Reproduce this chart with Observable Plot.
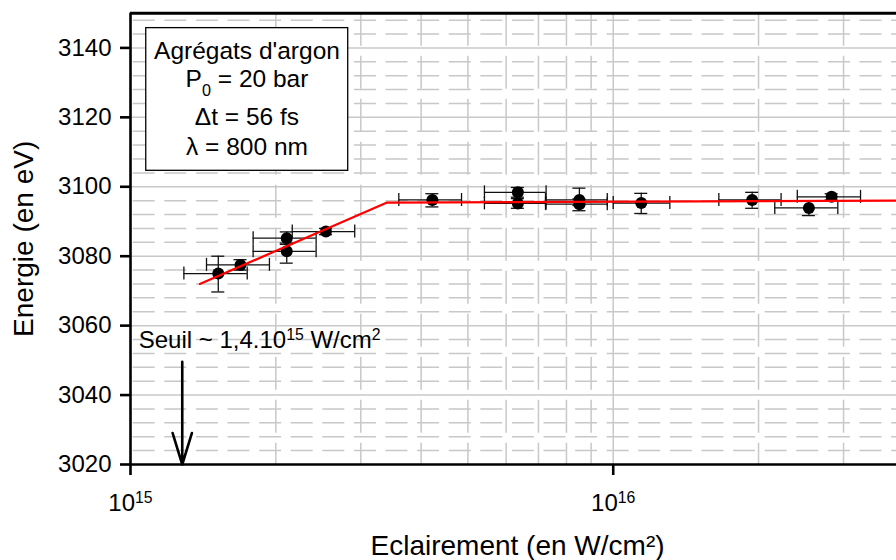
<!DOCTYPE html>
<html><head><meta charset="utf-8">
<script src="https://cdn.jsdelivr.net/npm/d3@7"></script>
<script src="https://cdn.jsdelivr.net/npm/@observablehq/plot@0.6"></script>
<style>
html,body{margin:0;padding:0;background:#fff;overflow:hidden;}
</style>
</head><body><div id="chart"></div>
<script>
// ---- data ----
const xVal = [1.52e15, 1.69e15, 2.107e15, 2.107e15, 2.54e15, 4.22e15, 6.345e15, 6.345e15, 8.51e15, 8.51e15, 1.143e16, 1.94e16, 2.543e16, 2.834e16];
const xLo  = [1.29e15, 1.437e15, 1.795e15, 1.795e15, 2.163e15, 3.596e15, 5.41e15, 5.41e15, 7.24e15, 7.24e15, 1.0e16, 1.655e16, 2.161e16, 2.406e16];
const xHi  = [1.745e15, 1.94e15, 2.424e15, 2.424e15, 2.914e15, 4.85e15, 7.26e15, 7.26e15, 9.72e15, 9.72e15, 1.31e16, 2.227e16, 2.919e16, 3.253e16];
const yVal = [3075.0, 3077.5, 3085.2, 3081.4, 3087.1, 3096.2, 3098.4, 3095.2, 3096.2, 3095.0, 3095.3, 3096.2, 3093.9, 3097.1];
const yLo  = [3069.7, 3076.0, 3083.4, 3078.0, 3086.2, 3094.2, 3097.0, 3093.8, 3094.6, 3093.1, 3092.3, 3093.8, 3091.7, 3096.2];
const yHi  = [3080.0, 3079.0, 3087.0, 3083.8, 3088.0, 3098.0, 3099.8, 3096.6, 3099.6, 3096.5, 3098.1, 3098.4, 3096.0, 3098.0];

const fitX = [1.392e15, 3.40e15, 3.862e16];
const fitY = [3072.0, 3095.45, 3096.0];

const xDomain = [1e15, 3.862e16];
const yDomain = [3020, 3150];
const xTicks = [1e15, 1e16];
const yTicks = [3020, 3040, 3060, 3080, 3100, 3120, 3140];
const yGridMajor = [3040, 3060, 3080, 3100, 3120, 3140];
const yGridMinor = [3024, 3028, 3032, 3036, 3044, 3048, 3052, 3056, 3064, 3068, 3072, 3076, 3084, 3088, 3092, 3096, 3104, 3108, 3112, 3116, 3124, 3128, 3132, 3136, 3144, 3148];
const xGridSolid = [1e16];
const xGridDashed = [2e15, 3e15, 4e15, 5e15, 6e15, 7e15, 8e15, 9e15, 2e16, 3e16];

const boxLines = ["Agrégats d'argon", "P_{0} = 20 bar", "Δt = 56 fs", "λ = 800 nm"];
const boxLineY = [3136.75, 3128.6, 3117.8, 3109.2];
const boxLineX = 1.743e15;
const boxRect = [{x1: 1.078e15, x2: 2.825e15, y1: 3104.6, y2: 3145.7}];

const seuilLabel = ["Seuil ~ 1,4.10^{15} W/cm^{2}"];
const seuilPos = {x: 1.04e15, y: 3053.7};
const arrowData = [{x: 1.28e15, y1: 3049.6, y2: 3020}];

const xTitle = "Eclairement (en W/cm²)";
const yTitle = "Energie (en eV)";

const pts = xVal.map((x, i) => ({x, xlo: xLo[i], xhi: xHi[i], y: yVal[i], ylo: yLo[i], yhi: yHi[i]}));
const fit = fitX.map((x, i) => ({x, y: fitY[i]}));

const gridColor = "#c8c8c8";
const barColor = "#111";

const svg = Plot.plot({
  width: 896,
  height: 560,
  marginLeft: 130,
  marginRight: 0,
  marginTop: 12.7,
  marginBottom: 96,
  style: {fontFamily: "'Liberation Sans', Arial, sans-serif", fontSize: "24px", background: "white", color: "black", overflow: "visible"},
  x: {type: "log", domain: xDomain},
  y: {domain: yDomain},
  marks: [
    // grid
    Plot.ruleY(yGridMinor, {stroke: gridColor, strokeWidth: 1.5, strokeDasharray: "22,9.6", strokeDashoffset: 28.9}),
    Plot.ruleY(yGridMajor, {stroke: gridColor, strokeWidth: 1.5}),
    Plot.ruleX(xGridDashed, {stroke: gridColor, strokeWidth: 1.5, strokeDasharray: "33,10"}),
    Plot.ruleX(xGridSolid, {stroke: gridColor, strokeWidth: 1.5}),
    // frame
    Plot.ruleY([yDomain[1]], {stroke: "black", strokeWidth: 3}),
    Plot.ruleY([yDomain[0]], {stroke: "black", strokeWidth: 2.6}),
    Plot.ruleX([xDomain[0]], {stroke: "black", strokeWidth: 2.6}),
    // axes
    Plot.axisY(yTicks, {anchor: "left", tickSize: 10, tickPadding: 9, strokeWidth: 2.6, fontSize: 24, label: null,
      tickFormat: d => String(d)}),
    Plot.axisX(xTicks, {anchor: "bottom", tickSize: 11, tickPadding: 18, strokeWidth: 2.6, fontSize: 24, label: null,
      tickFormat: d => "10^{" + Math.round(Math.log10(d)) + "}"}),
    // legend box
    Plot.rect(boxRect, {x1: "x1", x2: "x2", y1: "y1", y2: "y2", fill: "white", stroke: "black", strokeWidth: 1.3}),
    Plot.text(boxLines, {x: () => boxLineX, y: (d, i) => boxLineY[i], text: d => d, lineAnchor: "bottom", fontSize: 24.5}),
    // threshold annotation
    Plot.text(seuilLabel, {x: () => seuilPos.x, y: () => seuilPos.y, text: d => d, textAnchor: "start", lineAnchor: "bottom", fontSize: 24}),
    Plot.arrow(arrowData, {x1: "x", x2: "x", y1: "y1", y2: "y2", stroke: "black", strokeWidth: 2.6, headAngle: 34, headLength: 19}),
    // error bars
    Plot.ruleY(pts, {y: "y", x1: "xlo", x2: "xhi", stroke: barColor, strokeWidth: 1.3}),
    Plot.ruleX(pts, {x: "xlo", y1: "y", y2: "y", insetTop: -6.5, insetBottom: -6.5, stroke: barColor, strokeWidth: 1.3}),
    Plot.ruleX(pts, {x: "xhi", y1: "y", y2: "y", insetTop: -6.5, insetBottom: -6.5, stroke: barColor, strokeWidth: 1.3}),
    Plot.ruleX(pts, {x: "x", y1: "ylo", y2: "yhi", stroke: barColor, strokeWidth: 1.3}),
    Plot.ruleY(pts, {y: "ylo", x1: "x", x2: "x", insetLeft: -6.5, insetRight: -6.5, stroke: barColor, strokeWidth: 1.3}),
    Plot.ruleY(pts, {y: "yhi", x1: "x", x2: "x", insetLeft: -6.5, insetRight: -6.5, stroke: barColor, strokeWidth: 1.3}),
    // points
    Plot.dot(pts, {x: "x", y: "y", r: 6, fill: "black", stroke: null}),
    // fit
    Plot.line(fit, {x: "x", y: "y", stroke: "#ff0000", strokeWidth: 2.2}),
    // axis titles
    Plot.text([yTitle], {frameAnchor: "left", textAnchor: "middle", rotate: -90, dx: -106, fontSize: 28, text: d => d}),
    Plot.text([xTitle], {frameAnchor: "bottom", textAnchor: "middle", lineAnchor: "bottom", dy: 90, dx: 4, fontSize: 28, text: d => d})
  ]
});

document.getElementById("chart").appendChild(svg);

// sub/superscript markup ^{..} and _{..} -> tspans
function richText(root) {
  root.querySelectorAll("text").forEach(el => {
    const t = el.textContent;
    if (!/[\^_]\{/.test(t)) return;
    const fs = parseFloat(getComputedStyle(el).fontSize) || 24;
    const parts = [];
    const re = /([\^_])\{([^}]*)\}/g;
    let last = 0, m;
    while ((m = re.exec(t))) {
      if (m.index > last) parts.push({k: "n", s: t.slice(last, m.index)});
      parts.push({k: m[1], s: m[2]});
      last = re.lastIndex;
    }
    if (last < t.length) parts.push({k: "n", s: t.slice(last)});
    el.textContent = "";
    let cur = 0;
    parts.forEach(p => {
      const target = p.k === "^" ? -0.32 * fs : p.k === "_" ? 0.33 * fs : 0;
      const ts = document.createElementNS("http://www.w3.org/2000/svg", "tspan");
      ts.setAttribute("dy", (target - cur).toFixed(2));
      if (p.k !== "n") ts.setAttribute("font-size", (0.66 * fs).toFixed(1));
      ts.textContent = p.s;
      el.appendChild(ts);
      cur = target;
    });
  });
}
richText(svg);
</script>
</body></html>
